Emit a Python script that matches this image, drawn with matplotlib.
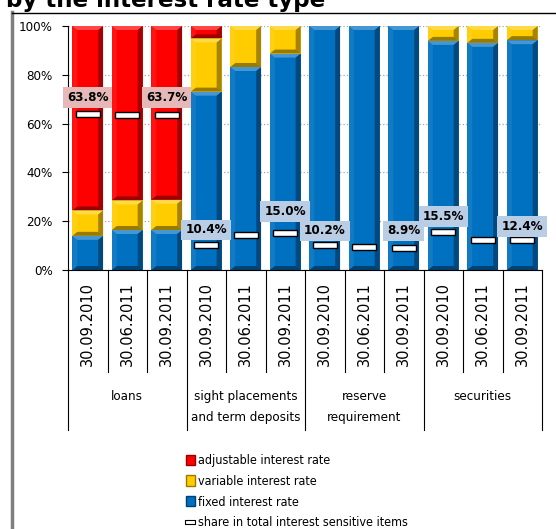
import matplotlib
matplotlib.use('Agg')
import matplotlib.pyplot as plt
import numpy as np
from matplotlib.patches import Patch, Polygon
from matplotlib.lines import Line2D

# --- data -------------------------------------------------------------
dates = ['30.09.2010', '30.06.2011', '30.09.2011'] * 4
groups = ['loans', 'sight placements\nand term deposits',
          'reserve\nrequirement', 'securities']

fixed = [14.0, 16.4, 16.4, 73.1, 83.2, 88.7, 100.0, 100.0, 100.0, 93.9, 93.1, 94.2]
variable = [10.4, 12.1, 12.4, 21.8, 16.8, 11.3, 0.0, 0.0, 0.0, 6.1, 6.9, 5.8]
adjustable = [75.6, 71.5, 71.2, 5.1, 0.0, 0.0, 0.0, 0.0, 0.0, 0.0, 0.0, 0.0]
share = [63.8, 63.5, 63.7, 10.4, 14.5, 15.0, 10.2, 9.6, 8.9, 15.5, 12.2, 12.4]

# bars whose share value is printed, with the label lift above the marker
labelled = [0, 2, 3, 5, 6, 8, 9, 11]
label_lift = [6.8, 7.1, 6.0, 8.8, 5.8, 7.1, 6.6, 5.6]

C_FIXED, C_VAR, C_ADJ = '#0070c0', '#ffcc00', '#ff0000'

plt.rcParams['font.family'] = ['DejaVu Sans']
plt.rcParams['font.stretch'] = 'condensed'

W, H = 556, 529
fig = plt.figure(figsize=(W / 100, H / 100), dpi=100)
ax = fig.add_axes([68 / W, 1 - 270 / H, (542 - 68) / W, (270 - 26) / H])

x = np.arange(len(dates))
bw = 0.78
bot2 = np.array(fixed)
bot3 = bot2 + np.array(variable)
bars = []
bars += list(ax.bar(x, fixed, bw, color=C_FIXED, zorder=2))
bars += list(ax.bar(x, variable, bw, bottom=bot2, color=C_VAR, zorder=2))
bars += list(ax.bar(x, adjustable, bw, bottom=bot3, color=C_ADJ, zorder=2))

ax.set_xlim(-0.5, len(dates) - 0.5)
ax.set_ylim(0, 100)

# bevelled look on every bar segment
px_x = (len(dates)) / (542 - 68)
px_y = 100 / (270 - 26)
bx, by = 5 * px_x, 4 * px_y
for p in bars:
    h = p.get_height()
    if h <= 0:
        continue
    x0, y0, wd = p.get_x(), p.get_y(), p.get_width()
    x1, y1 = x0 + wd, y0 + h
    b_y = min(by, h / 2.5)
    top = [(x0, y1), (x1, y1), (x1 - bx, y1 - b_y), (x0 + bx, y1 - b_y)]
    bottom = [(x0, y0), (x1, y0), (x1 - bx, y0 + b_y), (x0 + bx, y0 + b_y)]
    right = [(x1, y0), (x1, y1), (x1 - bx, y1 - b_y), (x1 - bx, y0 + b_y)]
    left = [(x0, y0), (x0, y1), (x0 + bx, y1 - b_y), (x0 + bx, y0 + b_y)]
    ax.add_patch(Polygon(top, closed=True, fc='white', alpha=0.28, lw=0, zorder=2.1))
    ax.add_patch(Polygon(left, closed=True, fc='white', alpha=0.08, lw=0, zorder=2.1))
    ax.add_patch(Polygon(right, closed=True, fc='black', alpha=0.35, lw=0, zorder=2.1))
    ax.add_patch(Polygon(bottom, closed=True, fc='black', alpha=0.4, lw=0, zorder=2.1))

# share markers
mh = 2.4
ax.bar(x, mh, 0.6, bottom=np.array(share) - mh / 2, color='white',
       edgecolor='black', lw=1.0, zorder=4)

for i, lift in zip(labelled, label_lift):
    fc = '#e6b9b8' if i < 3 else '#b9cde5'
    ax.text(i, share[i] + lift, f'{share[i]:.1f}%', ha='center', va='center',
            fontsize=9.5, fontweight='bold', zorder=5,
            bbox=dict(boxstyle='square,pad=0.3', fc=fc, ec='none'))

# y axis
ax.set_yticks(np.arange(0, 101, 20))
ax.set_yticklabels([f'{v}%' for v in range(0, 101, 20)])
ax.tick_params(axis='y', direction='out', length=4, pad=7, labelsize=9.5)
ax.yaxis.grid(True, linestyle=':', color='#a6a6a6', lw=0.9)
ax.set_axisbelow(True)
for s in ('top', 'right'):
    ax.spines[s].set_visible(False)
ax.spines['left'].set_linewidth(0.8)
ax.spines['bottom'].set_linewidth(0.8)

# x axis: dates, then groups
ax.set_xticks(x)
ax.set_xticklabels(dates, rotation=90, fontsize=10.5, fontstretch='normal')
ax.tick_params(axis='x', length=0, pad=9)
tr = ax.get_xaxis_transform()
for b in np.arange(-0.5, len(dates), 1.0):
    deep = (b + 0.5) % 3 == 0
    ax.plot([b, b], [0, -0.655 if deep else -0.42], color='black', lw=0.8,
            transform=tr, clip_on=False)
for g, name in enumerate(groups):
    ax.text(3 * g + 1, -0.49, name, transform=tr, ha='center', va='top',
            fontsize=9.5, linespacing=1.85)

# title and frame
fig.text(6 / W, 1 - 7 / H, 'by the interest rate type', fontsize=16.6,
         fontweight='bold', fontstretch='normal', va='baseline', ha='left')
fig.add_artist(Line2D([12 / W, 12 / W], [0, 1 - 12 / H], color='#7f7f7f', lw=2.5))
fig.add_artist(Line2D([12 / W, 1], [1 - 12.5 / H] * 2, color='black', lw=1))

# legend
handles = [Patch(fc=C_ADJ, ec='#990000'), Patch(fc=C_VAR, ec='#a07800'),
           Patch(fc=C_FIXED, ec='#003f70'),
           Line2D([], [], ls='none', marker=[(-1, -0.45), (1, -0.45), (1, 0.45), (-1, 0.45), (-1, -0.45)],
                  markersize=7, mfc='white', mec='black', mew=0.8)]
labels = ['adjustable interest rate', 'variable interest rate',
          'fixed interest rate', 'share in total interest sensitive items']
fig.legend(handles, labels, loc='upper left', bbox_to_anchor=(186 / W, 1 - 454 / H),
           frameon=False, fontsize=9, handlelength=0.7, handleheight=0.9,
           handletextpad=0.3, labelspacing=0.62, borderaxespad=0, borderpad=0)

fig.savefig('out.png', dpi=100)
